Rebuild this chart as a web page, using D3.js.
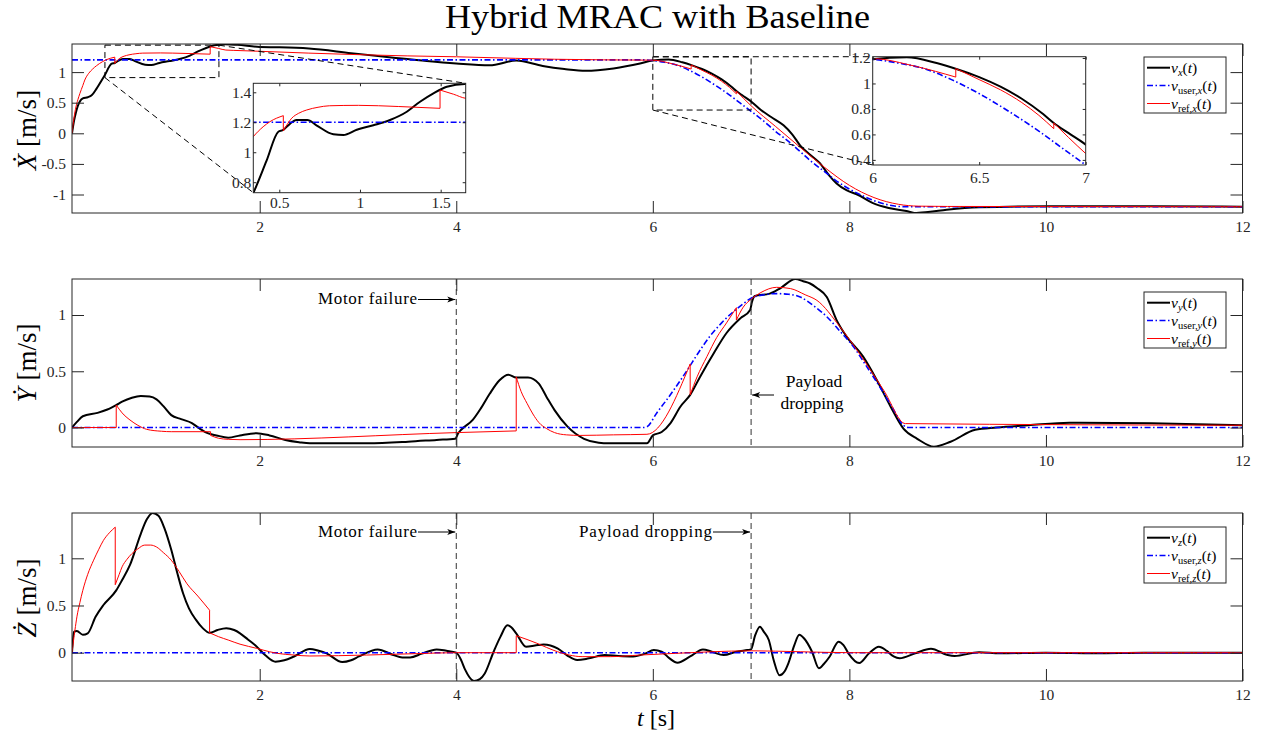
<!DOCTYPE html>
<html>
<head>
<meta charset="utf-8">
<script src="https://cdn.jsdelivr.net/npm/d3@7"></script>
<style>
  body { margin: 0; background: #fff; }
  svg, svg text { font-family: "Liberation Serif", "Times New Roman", serif; }
</style>
</head>
<body>
<svg width="1261" height="736"></svg>
<script>
// ---- data (t [s], value [m/s]); repeated t = reset jump ----
var timeTicks = [2, 4, 6, 8, 10, 12];

var vxMeas = [[0.09,0],[0.11,0.2],[0.13,0.34],[0.15,0.45],[0.17,0.52],[0.2,0.57],[0.25,0.59],[0.29,0.62],[0.34,0.73],
  [0.42,0.94],[0.494,1.137],[0.525,1.149],[0.546,1.17],[0.608,1.215],[0.674,1.215],[0.73,1.18],[0.835,1.12],[0.897,1.115],
  [0.98,1.15],[1.083,1.18],[1.186,1.215],[1.29,1.27],[1.372,1.337],[1.455,1.393],[1.538,1.437],[1.65,1.455],[1.77,1.445],
  [2.0,1.41],[2.2,1.405],[2.5,1.385],[2.93,1.31],[3.34,1.24],[3.7,1.18],[4.0,1.14],[4.34,1.11],[4.61,1.19],[4.88,1.1],
  [5.1,1.05],[5.32,1.02],[5.6,1.06],[5.87,1.14],[6.0,1.19],[6.16,1.205],[6.3,1.16],[6.4,1.11],[6.5,1.05],[6.6,0.975],
  [6.7,0.88],[6.8,0.76],[6.85,0.69],[6.92,0.61],[7.0,0.52],[7.1,0.38],[7.2,0.27],[7.33,0.13],[7.42,-0.02],[7.5,-0.2],
  [7.6,-0.35],[7.7,-0.49],[7.8,-0.7],[7.87,-0.82],[7.97,-0.93],[8.08,-1.0],[8.24,-1.14],[8.4,-1.22],[8.58,-1.27],
  [8.66,-1.3],[8.8,-1.285],[8.99,-1.25],[9.32,-1.21],[10.03,-1.19],[11.07,-1.19],[12,-1.2]];
var vxUser = [[0.09,1.2],[5.9,1.2],[6.0,1.19],[6.12,1.16],[6.24,1.117],[6.37,1.03],[6.5,0.92],[6.64,0.78],[6.785,0.62],
  [6.9,0.48],[7.0,0.36],[7.12,0.21],[7.25,0.03],[7.37,-0.12],[7.5,-0.3],[7.62,-0.47],[7.75,-0.63],[7.87,-0.78],[8.0,-0.91],
  [8.12,-1.01],[8.25,-1.1],[8.37,-1.16],[8.5,-1.195],[8.6,-1.2],[12,-1.2]];
var vxRef = [[0.09,0],[0.11,0.25],[0.13,0.43],[0.15,0.55],[0.17,0.65],[0.2,0.78],[0.22,0.87],[0.26,0.98],[0.3,1.05],
  [0.339,1.104],[0.4,1.17],[0.442,1.204],[0.525,1.244],[0.525,1.142],[0.577,1.227],[0.62,1.26],[0.67,1.282],[0.74,1.3],
  [0.81,1.31],[0.99,1.313],[1.24,1.305],[1.496,1.293],[1.496,1.415],[1.58,1.387],[1.655,1.36],[1.73,1.355],[2.0,1.34],
  [2.5,1.31],[3.0,1.285],[3.5,1.265],[4.0,1.25],[4.6,1.225],[5.0,1.21],[5.5,1.2],[6.0,1.195],[6.2,1.135],[6.39,1.05],
  [6.39,1.117],[6.5,1.03],[6.6,0.95],[6.7,0.85],[6.78,0.75],[6.85,0.645],[6.85,0.69],[6.92,0.575],[7.0,0.45],
  [7.25,0.11],[7.5,-0.23],[7.75,-0.56],[8.0,-0.85],[8.25,-1.05],[8.5,-1.16],[8.7,-1.19],[9.0,-1.195],[12,-1.2]];

var vyMeas = [[0.09,0],[0.14,0.05],[0.2,0.1],[0.35,0.13],[0.45,0.16],[0.54,0.2],[0.6,0.23],[0.7,0.265],[0.79,0.28],
  [0.88,0.275],[0.95,0.25],[1.02,0.19],[1.1,0.11],[1.2,0.075],[1.31,0.04],[1.39,-0.01],[1.47,-0.05],[1.56,-0.07],
  [1.68,-0.09],[1.8,-0.07],[1.97,-0.05],[2.1,-0.07],[2.26,-0.11],[2.4,-0.13],[2.51,-0.14],[3.1,-0.14],[3.51,-0.126],
  [3.8,-0.11],[3.99,-0.1],[4.02,-0.05],[4.05,-0.02],[4.17,0.07],[4.25,0.17],[4.34,0.3],[4.44,0.42],[4.53,0.47],
  [4.61,0.445],[4.73,0.445],[4.84,0.39],[4.92,0.27],[5.0,0.155],[5.13,0.01],[5.3,-0.1],[5.45,-0.135],[5.55,-0.14],
  [5.94,-0.14],[6.0,-0.07],[6.09,-0.04],[6.18,0.04],[6.28,0.185],[6.38,0.29],[6.48,0.45],[6.62,0.66],[6.75,0.84],
  [6.89,0.97],[6.99,1.045],[7.01,1.12],[7.04,1.17],[7.19,1.19],[7.3,1.24],[7.45,1.32],[7.53,1.3],[7.6,1.28],[7.67,1.24],
  [7.77,1.16],[7.87,0.955],[7.97,0.81],[8.14,0.63],[8.28,0.42],[8.42,0.185],[8.55,-0.01],[8.69,-0.1],[8.86,-0.17],
  [9.03,-0.126],[9.28,-0.02],[9.5,0.0],[9.82,0.02],[10.24,0.043],[11.07,0.037],[12,0.02]];
var vyUser = [[0.09,0],[5.9,0],[5.94,0.007],[6.04,0.13],[6.14,0.245],[6.25,0.38],[6.35,0.51],[6.46,0.66],[6.58,0.81],
  [6.7,0.93],[6.82,1.03],[6.92,1.1],[7.0,1.15],[7.13,1.18],[7.26,1.19],[7.38,1.185],[7.5,1.16],[7.64,1.08],[7.77,0.985],
  [7.9,0.86],[8.04,0.72],[8.17,0.55],[8.31,0.36],[8.43,0.19],[8.55,0.02],[8.6,0],[12,0]];
var vyRef = [[0.09,0],[0.54,0],[0.54,0.2],[0.6,0.13],[0.68,0.067],[0.76,0.02],[0.85,-0.016],[1.0,-0.033],[1.1,-0.037],
  [1.5,-0.037],[1.5,-0.07],[1.58,-0.095],[1.68,-0.105],[1.8,-0.108],[4.0,-0.045],[4.61,-0.03],[4.61,0.45],[4.66,0.32],
  [4.72,0.215],[4.78,0.12],[4.84,0.045],[4.92,-0.01],[5.0,-0.045],[5.12,-0.065],[5.26,-0.07],[5.6,-0.065],[5.94,-0.06],
  [6.38,0.565],[6.38,0.29],[6.45,0.45],[6.55,0.63],[6.65,0.8],[6.75,0.93],[6.85,1.065],[6.85,0.955],[6.92,1.07],
  [7.0,1.14],[7.1,1.2],[7.26,1.246],[7.4,1.235],[7.55,1.18],[7.67,1.13],[7.9,0.9],[8.1,0.66],[8.35,0.33],[8.57,0.035],
  [12,0.02]];

var vzMeas = [[0.09,0],[0.11,0.22],[0.14,0.23],[0.2,0.19],[0.25,0.205],[0.33,0.38],[0.41,0.505],[0.54,0.66],[0.6,0.77],
  [0.68,0.93],[0.79,1.26],[0.85,1.41],[0.91,1.48],[0.97,1.45],[1.03,1.32],[1.1,1.09],[1.16,0.85],[1.22,0.63],[1.28,0.47],
  [1.35,0.35],[1.42,0.26],[1.49,0.21],[1.57,0.24],[1.66,0.26],[1.74,0.24],[1.8,0.205],[1.88,0.14],[1.97,0.064],
  [2.06,-0.03],[2.16,-0.095],[2.25,-0.08],[2.35,-0.04],[2.51,0.04],[2.6,0.02],[2.68,-0.007],[2.84,-0.1],[2.93,-0.08],
  [3.01,-0.04],[3.2,0.035],[3.36,-0.025],[3.45,-0.05],[3.53,-0.05],[3.65,-0.01],[3.8,0.035],[3.9,0.02],[4.0,0],
  [4.05,-0.08],[4.09,-0.18],[4.18,-0.3],[4.24,-0.28],[4.29,-0.22],[4.38,0.01],[4.45,0.17],[4.52,0.29],[4.56,0.27],
  [4.61,0.205],[4.71,0.064],[4.8,0.075],[4.89,0.088],[5.03,0.046],[5.13,-0.03],[5.23,-0.078],[5.35,-0.06],[5.51,-0.025],
  [5.65,-0.035],[5.8,-0.04],[5.92,-0.01],[6.01,0.028],[6.09,0.01],[6.17,-0.06],[6.25,-0.106],[6.38,-0.04],[6.51,0.035],
  [6.6,0.01],[6.72,-0.025],[6.85,0.01],[6.96,0.028],[7.0,0.035],[7.04,0.18],[7.09,0.275],[7.13,0.22],[7.18,0.134],
  [7.23,-0.08],[7.29,-0.24],[7.34,-0.2],[7.38,-0.11],[7.44,0.08],[7.49,0.19],[7.54,0.15],[7.62,0.01],[7.69,-0.166],
  [7.74,-0.12],[7.8,-0.04],[7.89,0.117],[7.94,0.08],[7.99,-0.007],[8.1,-0.11],[8.2,-0.007],[8.3,0.064],[8.38,0.02],
  [8.45,-0.04],[8.51,-0.06],[8.67,-0.007],[8.83,0.042],[9.0,-0.025],[9.07,-0.035],[9.32,0.004],[9.53,-0.007],[10.0,0.0],
  [10.5,-0.005],[11,0],[12,0]];
var vzUser = [[0.09,0],[12,0]];
var vzRef = [[0.09,0],[0.12,0.24],[0.14,0.38],[0.17,0.53],[0.2,0.66],[0.25,0.83],[0.31,0.98],[0.36,1.09],[0.41,1.19],
  [0.47,1.27],[0.53,1.33],[0.53,0.72],[0.57,0.83],[0.6,0.91],[0.65,0.99],[0.7,1.05],[0.76,1.1],[0.83,1.14],[0.89,1.14],
  [0.95,1.12],[1.02,1.06],[1.1,0.98],[1.18,0.86],[1.26,0.73],[1.37,0.6],[1.49,0.45],[1.49,0.21],[1.58,0.17],
  [1.68,0.134],[1.8,0.09],[1.97,0.046],[2.1,0.01],[2.18,-0.007],[2.35,-0.025],[2.51,-0.035],[3.09,-0.025],[3.6,-0.01],
  [4.0,0],[4.61,0],[4.61,0.18],[4.72,0.14],[4.82,0.1],[4.92,0.055],[5.03,0.01],[5.15,-0.025],[5.28,-0.042],
  [5.57,-0.042],[5.87,-0.025],[6.23,-0.007],[6.6,0.01],[7.0,0.02],[7.5,0.01],[8.0,0.0],[12,0]];

var eventTimes = [4, 7];

// ---- setup ----
var svg = d3.select("svg");
var axisColor = "#262626";
var serif = "'Liberation Serif', 'Times New Roman', serif";
var xScale = d3.scaleLinear().domain([0.09, 12]).range([72, 1242.5]);

var styles = [
  { color: "#000000", width: 2 },
  { color: "#0000ff", width: 1.6, dash: "6,2.5,1.5,2.5" },
  { color: "#ff0000", width: 1 }
];

var fmt = function (d) { return String(d); };

// build a path, keeping reset jumps as straight vertical segments
function pathFor(data, xs, ys) {
  var pieces = [], cur = [data[0]];
  for (var i = 1; i < data.length; i++) {
    if (data[i][0] === data[i - 1][0]) { pieces.push(cur); cur = [data[i]]; }
    else cur.push(data[i]);
  }
  pieces.push(cur);
  var line = d3.line()
    .x(function (d) { return xs(d[0]); })
    .y(function (d) { return ys(d[1]); })
    .curve(d3.curveMonotoneX);
  return pieces.map(function (p, i) {
    var s = line(p).replace(/Z/g, "");
    return i ? "L" + s.slice(1) : s;
  }).join("");
}

var clipCount = 0;
function drawSeries(g, list, xs, ys) {
  var r = xs.range(), yr = ys.range();
  var id = "clip" + (clipCount++);
  svg.append("clipPath").attr("id", id).append("rect")
    .attr("x", r[0]).attr("y", yr[1]).attr("width", r[1] - r[0]).attr("height", yr[0] - yr[1]);
  var cg = g.append("g").attr("clip-path", "url(#" + id + ")");
  list.forEach(function (data, i) {
    cg.append("path")
      .attr("d", pathFor(data, xs, ys))
      .attr("fill", "none")
      .attr("stroke", styles[i].color)
      .attr("stroke-width", styles[i].width)
      .attr("stroke-dasharray", styles[i].dash || null)
      .attr("stroke-linejoin", "round");
  });
}

function drawAxes(g, xs, ys, xTicks, yTicks, len, fontSize, padX, padY) {
  var r = xs.range(), yr = ys.range();
  g.append("rect")
    .attr("x", r[0]).attr("y", yr[1]).attr("width", r[1] - r[0]).attr("height", yr[0] - yr[1])
    .attr("fill", "none").attr("stroke", axisColor).attr("stroke-width", 1);
  var axes = [
    g.append("g").attr("transform", "translate(0," + yr[0] + ")")
      .call(d3.axisBottom(xs).tickValues(xTicks).tickSizeInner(-len).tickSizeOuter(0).tickPadding(padX).tickFormat(fmt)),
    g.append("g").attr("transform", "translate(0," + yr[1] + ")")
      .call(d3.axisTop(xs).tickValues(xTicks).tickSizeInner(-len).tickSizeOuter(0).tickFormat("")),
    g.append("g").attr("transform", "translate(" + r[0] + ",0)")
      .call(d3.axisLeft(ys).tickValues(yTicks).tickSizeInner(-len).tickSizeOuter(0).tickPadding(padY).tickFormat(fmt)),
    g.append("g").attr("transform", "translate(" + r[1] + ",0)")
      .call(d3.axisRight(ys).tickValues(yTicks).tickSizeInner(-len).tickSizeOuter(0).tickFormat(""))
  ];
  axes.forEach(function (a) {
    a.select(".domain").remove();
    a.attr("font-family", serif).attr("font-size", fontSize);
    a.selectAll("line").attr("stroke", axisColor);
    a.selectAll("text").attr("fill", axisColor).style("font-family", serif);
  });
}

function arrowHead(g, x, y, dir) {
  g.append("path")
    .attr("d", "M" + x + "," + y + "L" + (x - dir * 8) + "," + (y - 3) + "L" + (x - dir * 6) + "," + y +
      "L" + (x - dir * 8) + "," + (y + 3) + "Z")
    .attr("fill", "#000");
}

function annotate(g, x0, x1, y) {
  g.append("line").attr("x1", x0).attr("x2", x1).attr("y1", y).attr("y2", y)
    .attr("stroke", "#000").attr("stroke-width", 1);
  arrowHead(g, x1, y, x1 > x0 ? 1 : -1);
}

function legend(g, top, axisName) {
  var bx = 1144, bw = 82;
  g.append("rect").attr("x", bx).attr("y", top).attr("width", bw).attr("height", 56)
    .attr("fill", "#fff").attr("stroke", axisColor).attr("stroke-width", 1);
  var subs = [[axisName], ["user,", axisName], ["ref,", axisName]];
  var rows = [10.7, 28.5, 46.5];
  subs.forEach(function (sub, i) {
    var yy = top + rows[i];
    g.append("line").attr("x1", bx + 3).attr("x2", bx + 26).attr("y1", yy).attr("y2", yy)
      .attr("stroke", styles[i].color).attr("stroke-width", styles[i].width)
      .attr("stroke-dasharray", styles[i].dash || null);
    var t = g.append("text").attr("x", bx + 27).attr("y", yy + 5).attr("font-size", 15.5).attr("fill", "#000");
    t.append("tspan").attr("font-style", "italic").text("v");
    sub.forEach(function (s, k) {
      var sp = t.append("tspan").attr("font-size", 10.5).text(s);
      if (k === 0) sp.attr("dy", 3);
      if (s.length === 1) sp.attr("font-style", "italic");
    });
    t.append("tspan").attr("dy", -3).text("(");
    t.append("tspan").attr("font-style", "italic").text("t");
    t.append("tspan").text(")");
  });
}

// ---- title and x label ----
svg.append("text").attr("x", 657.5).attr("y", 28).attr("text-anchor", "middle")
  .attr("font-size", 33).attr("textLength", 425).attr("lengthAdjust", "spacingAndGlyphs")
  .text("Hybrid MRAC with Baseline");

var xl = svg.append("text").attr("x", 656).attr("y", 726).attr("text-anchor", "middle").attr("font-size", 24);
xl.append("tspan").attr("font-style", "italic").text("t");
xl.append("tspan").text(" [s]");

// ---- panels ----
var panels = [
  { top: 44, bottom: 213, yDomain: [-1.302, 1.459], yTicks: [-1, -0.5, 0, 0.5, 1], sym: "\u1E8A", labelY: 130,
    data: [vxMeas, vxUser, vxRef], legendTop: 57, name: "x" },
  { top: 279, bottom: 447, yDomain: [-0.173, 1.32], yTicks: [0, 0.5, 1], sym: "\u1E8E", labelY: 363,
    data: [vyMeas, vyUser, vyRef], legendTop: 292, name: "y" },
  { top: 513, bottom: 681, yDomain: [-0.3, 1.48], yTicks: [0, 0.5, 1], sym: "\u017B", labelY: 598,
    data: [vzMeas, vzUser, vzRef], legendTop: 527, name: "z" }
];

panels.forEach(function (p) {
  var g = svg.append("g");
  var yScale = d3.scaleLinear().domain(p.yDomain).range([p.bottom, p.top]);
  drawSeries(g, p.data, xScale, yScale);
  drawAxes(g, xScale, yScale, timeTicks, p.yTicks, 12, 15.5, 8, 6);

  var yl = g.append("text").attr("transform", "translate(36," + p.labelY + ") rotate(-90)")
    .attr("text-anchor", "middle").attr("font-size", 27);
  yl.append("tspan").attr("font-style", "italic").text(p.sym);
  yl.append("tspan").text(" [m/s]");

  p.yScale = yScale;
  p.g = g;
});

// ---- event markers (middle and bottom) ----
[panels[1], panels[2]].forEach(function (p) {
  eventTimes.forEach(function (t) {
    p.g.append("line").attr("x1", xScale(t)).attr("x2", xScale(t)).attr("y1", p.top).attr("y2", p.bottom)
      .attr("stroke", "#333").attr("stroke-width", 1).attr("stroke-dasharray", "6,4");
  });
});

var gm = panels[1].g;
gm.append("text").attr("x", 417).attr("y", 304).attr("text-anchor", "end").attr("font-size", 17)
  .attr("textLength", 99).text("Motor failure");
annotate(gm, 418, xScale(4) - 1, 299.5);
gm.append("text").attr("x", 814).attr("y", 387).attr("text-anchor", "middle").attr("font-size", 17.5).text("Payload");
gm.append("text").attr("x", 812).attr("y", 409).attr("text-anchor", "middle").attr("font-size", 17.5).text("dropping");
annotate(gm, 774, xScale(7) + 1, 395);

var gb = panels[2].g;
gb.append("text").attr("x", 417).attr("y", 537).attr("text-anchor", "end").attr("font-size", 17)
  .attr("textLength", 99).text("Motor failure");
annotate(gb, 418, xScale(4) - 1, 532);
gb.append("text").attr("x", 712).attr("y", 537).attr("text-anchor", "end").attr("font-size", 17)
  .attr("textLength", 133).text("Payload dropping");
annotate(gb, 713, xScale(7) - 1, 532);

// ---- zoom boxes and insets (top panel) ----
var gt = panels[0].g, yTop = panels[0].yScale;
var insets = [
  { box: [0.425, 1.585, 0.91, 1.44], xr: [253.3, 465.7], yr: [192.7, 83.3], xd: [0.339, 1.655], yd: [0.73, 1.46],
    xTicks: [0.5, 1, 1.5], yTicks: [0.8, 1, 1.2, 1.4], padX: 4, links: [["l", "b"], ["r", "t"]] },
  { box: [6, 7, 0.38, 1.25], xr: [872.7, 1085.7], yr: [165, 56.7], xd: [6, 7], yd: [0.36, 1.21],
    xTicks: [6, 6.5, 7], yTicks: [0.4, 0.6, 0.8, 1, 1.2], padX: 7, links: [["l", "t"], ["l", "b"]] }
];

insets.forEach(function (ins) {
  var bx0 = xScale(ins.box[0]), bx1 = xScale(ins.box[1]);
  var by0 = yTop(ins.box[3]), by1 = yTop(ins.box[2]);
  gt.append("rect").attr("x", bx0).attr("y", by0).attr("width", bx1 - bx0).attr("height", by1 - by0)
    .attr("fill", "none").attr("stroke", "#000").attr("stroke-dasharray", "6,4").attr("stroke-width", 1);
  ins.links.forEach(function (lk) {
    var sx = lk[0] === "l" ? bx0 : bx1, sy = lk[1] === "t" ? by0 : by1;
    var ex = lk[0] === "l" ? ins.xr[0] : ins.xr[1], ey = lk[1] === "t" ? ins.yr[1] : ins.yr[0];
    gt.append("line").attr("x1", sx).attr("y1", sy).attr("x2", ex).attr("y2", ey)
      .attr("stroke", "#000").attr("stroke-dasharray", "6,4").attr("stroke-width", 1);
  });

  var xs = d3.scaleLinear().domain(ins.xd).range(ins.xr);
  var ys = d3.scaleLinear().domain(ins.yd).range(ins.yr);
  var ig = gt.append("g");
  ig.append("rect").attr("x", ins.xr[0]).attr("y", ins.yr[1])
    .attr("width", ins.xr[1] - ins.xr[0]).attr("height", ins.yr[0] - ins.yr[1]).attr("fill", "#fff");
  drawSeries(ig, panels[0].data, xs, ys);
  drawAxes(ig, xs, ys, ins.xTicks, ins.yTicks, 3, 15.5, ins.padX, 2);
});

legend(panels[0].g, panels[0].legendTop, "x");
legend(panels[1].g, panels[1].legendTop, "y");
legend(panels[2].g, panels[2].legendTop, "z");
</script>
</body>
</html>
